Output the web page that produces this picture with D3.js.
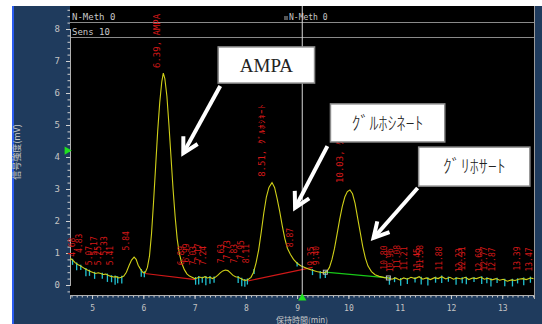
<!DOCTYPE html>
<html><head><meta charset="utf-8">
<script src="https://cdn.jsdelivr.net/npm/d3@7/dist/d3.min.js"></script>
<style>html,body{margin:0;padding:0;background:#fff;}svg{display:block;}</style>
</head><body>
<script>
// ---------- DATA ----------
const traceTimes = [4.57,4.62,4.67,4.72,4.77,4.82,4.87,4.92,4.97,5.02,5.07,5.12,5.17,5.22,5.27,5.32,5.37,5.42,5.47,5.52,5.57,5.62,5.67,5.72,5.77,5.82,5.86,5.90,5.95,6.00,6.04,6.08,6.12,6.16,6.20,6.24,6.28,6.32,6.36,6.39,6.42,6.46,6.50,6.54,6.58,6.62,6.66,6.70,6.75,6.80,6.85,6.90,6.95,7.00,7.05,7.10,7.15,7.20,7.25,7.30,7.35,7.40,7.45,7.50,7.55,7.60,7.65,7.70,7.75,7.80,7.85,7.90,7.95,8.00,8.05,8.10,8.15,8.20,8.25,8.30,8.35,8.40,8.45,8.51,8.56,8.61,8.66,8.71,8.76,8.81,8.87,8.93,9.00,9.07,9.15,9.22,9.30,9.38,9.45,9.52,9.58,9.63,9.68,9.73,9.78,9.83,9.88,9.93,9.98,10.03,10.08,10.13,10.18,10.23,10.28,10.33,10.38,10.45,10.52,10.60,10.70,10.78,10.85,10.92,11.00,11.08,11.15,11.22,11.30,11.38,11.45,11.52,11.60,11.68,11.75,11.82,11.90,11.98,12.05,12.12,12.20,12.28,12.35,12.42,12.50,12.58,12.65,12.72,12.80,12.88,12.95,13.02,13.10,13.18,13.25,13.32,13.40,13.47,13.55,13.61];
const traceValues = [0.84,0.78,0.70,0.64,0.60,0.55,0.50,0.46,0.42,0.39,0.36,0.38,0.36,0.33,0.34,0.30,0.27,0.25,0.26,0.22,0.24,0.28,0.40,0.60,0.78,0.87,0.80,0.62,0.48,0.38,0.40,0.55,0.90,1.60,2.60,3.70,4.80,5.70,6.35,6.62,6.45,5.90,5.00,4.00,3.00,2.15,1.45,1.00,0.68,0.48,0.35,0.28,0.24,0.20,0.22,0.25,0.22,0.26,0.22,0.24,0.20,0.24,0.30,0.38,0.44,0.47,0.45,0.38,0.30,0.26,0.24,0.20,0.16,0.14,0.18,0.24,0.40,0.70,1.10,1.65,2.25,2.75,3.05,3.20,3.05,2.70,2.30,1.85,1.45,1.15,0.95,0.80,0.68,0.60,0.55,0.50,0.46,0.42,0.40,0.38,0.42,0.55,0.80,1.15,1.60,2.05,2.45,2.75,2.92,2.97,2.85,2.55,2.10,1.65,1.20,0.85,0.60,0.42,0.32,0.27,0.23,0.22,0.18,0.22,0.16,0.22,0.18,0.24,0.20,0.26,0.18,0.22,0.17,0.23,0.20,0.26,0.19,0.24,0.18,0.22,0.19,0.24,0.17,0.22,0.20,0.25,0.18,0.21,0.16,0.20,0.15,0.18,0.12,0.16,0.14,0.18,0.20,0.17,0.22,0.20];

// integration baselines: [t1, v1, t2, v2]
const redBaselines = [[6.03,0.36,7.02,0.17],[8.02,0.12,9.30,0.55]];
const greenBaselines = [[9.55,0.40,10.78,0.22]];

// cyan noise marks (times) and their lengths in mV
const noiseTimes = [4.62,4.70,4.78,4.88,4.95,5.05,5.20,5.30,5.38,5.45,5.50,5.58,5.96,6.02,7.02,7.08,7.15,7.22,7.30,7.38,7.85,7.92,7.98,8.03,8.16,9.00,9.30,9.45,9.55,10.80,10.90,11.02,11.15,11.30,11.42,11.55,11.70,11.82,11.95,12.10,12.22,12.30,12.45,12.60,12.70,12.78,12.90,13.05,13.20,13.30,13.42,13.55];
const noiseDepths = [0.15,0.2,0.12,0.22,0.15,0.18,0.15,0.22,0.18,0.25,0.18,0.2,0.2,0.15,0.2,0.22,0.15,0.25,0.2,0.15,0.18,0.22,0.2,0.15,0.12,0.1,0.15,0.2,0.18,0.2,0.12,0.2,0.15,0.12,0.2,0.22,0.15,0.2,0.12,0.2,0.15,0.2,0.12,0.2,0.15,0.22,0.12,0.2,0.2,0.12,0.2,0.15];

// red retention-time labels: anchor time, text, start value (mV)
const rtLabelTimes = [4.67,4.80,4.99,5.09,5.18,5.29,5.40,5.73,6.80,6.90,7.03,7.13,7.23,7.57,7.69,7.83,7.96,8.06,8.92,9.33,9.43,10.75,10.87,11.00,11.14,11.39,11.45,11.82,12.22,12.28,12.61,12.71,12.86,13.35,13.58];
const rtLabelTexts = ["4.68","4.83","5.07","5.17","5.25","5.33","5.41","5.84","6.89","6.99","7.03","7.17","7.24","7.63","7.73","7.83","7.95","8.11","8.87","9.35","9.40","10.80","10.96","11.08","11.21","11.45","11.58","11.88","12.23","12.31","12.69","12.77","12.87","13.39","13.47"];
const rtLabelStarts = [0.88,1.00,0.62,0.92,0.62,0.92,0.62,1.08,0.62,0.70,0.62,0.70,0.62,0.68,0.80,0.68,0.80,0.68,1.18,0.60,0.62,0.48,0.40,0.50,0.45,0.40,0.50,0.45,0.40,0.45,0.40,0.45,0.42,0.45,0.42];

// named peak labels
const peakLabelTimes = [6.33,8.38,9.90];
const peakLabelTexts = ["6.39, AMPA","8.51, ｸﾞﾙﾎｼﾈｰﾄ","10.03, ｸﾞﾘﾎｻｰﾄ"];
const peakLabelStarts = [6.78,3.38,3.19];

// annotation callouts: box [t1,v1,t2,v2], text, arrow [tStart,vStart,tTip,vTip]
const calloutTexts = ["AMPA","ｸﾞﾙﾎｼﾈｰﾄ","ｸﾞﾘﾎｻｰﾄ"];
const calloutBoxes = [[7.46,7.44,9.34,6.31],[9.65,5.66,11.88,4.47],[11.37,4.31,13.54,3.09]];
const calloutArrows = [[7.50,6.22,6.78,4.12],[9.59,4.34,8.96,2.41],[11.35,3.03,10.49,1.47]];

const xTicks = [5,6,7,8,9,10,11,12,13];
const yTicks = [0,1,2,3,4,5,6,7,8];
const headerTexts = ["N-Meth 0","Sens 10"];
const cursorTime = 9.10;
const markerValue = 4.2;

// ---------- DRAW ----------
const W = 542, H = 324;
const svg = d3.select("body").append("svg").attr("width", W).attr("height", H);
const plot = {l:70, t:6, r:534, b:295};
const x = d3.scaleLinear().domain([4.57, 13.62]).range([plot.l, plot.r]);
const y = d3.scaleLinear().domain([0, 8]).range([285, 29]);

svg.append("rect").attr("width", W).attr("height", H).attr("fill", "#fff");
svg.append("rect").attr("x", 12).attr("y", 6).attr("width", W-12).attr("height", H-6).attr("fill", "#1f3b5d");
svg.append("line").attr("x1", 13).attr("x2", 13).attr("y1", 6).attr("y2", H).attr("stroke", "#2b5cf0").attr("stroke-width", 2);
svg.append("rect").attr("x", plot.l).attr("y", plot.t).attr("width", plot.r-plot.l).attr("height", plot.b-plot.t).attr("fill", "#000");
svg.append("line").attr("x1", plot.r+0.5).attr("x2", plot.r+0.5).attr("y1", plot.t).attr("y2", plot.b).attr("stroke", "#9a9a9a");

// header lines/text
[22, 37].forEach(yy => svg.append("line").attr("x1", plot.l).attr("x2", plot.r).attr("y1", yy+0.5).attr("y2", yy+0.5).attr("stroke", "#8a8a8a").attr("stroke-width", 1.2));
svg.append("text").attr("x", 72).attr("y", 20).text(headerTexts[0]).attr("fill", "#c8c8c8").style("font", "9px 'DejaVu Sans Mono'");
svg.append("text").attr("x", 72).attr("y", 35).text(headerTexts[1]).attr("fill", "#c8c8c8").style("font", "9px 'DejaVu Sans Mono'");
svg.append("text").attr("x", 289).attr("y", 20).text(headerTexts[0]).attr("fill", "#c8c8c8").style("font", "8px 'DejaVu Sans Mono'");
[285, 287].forEach(xx => svg.append("line").attr("x1", xx).attr("x2", xx).attr("y1", 16).attr("y2", 20).attr("stroke", "#aaa"));

// axes
const axisCol = "#c4c4c4";
const yMinor = svg.append("g").attr("transform", `translate(${plot.l},0)`)
  .call(d3.axisLeft(y).tickValues(d3.range(-0.2, 8.61, 0.2)).tickSize(2.5).tickFormat(""));
const yMajor = svg.append("g").attr("transform", `translate(${plot.l},0)`)
  .call(d3.axisLeft(y).tickValues(yTicks).tickSize(4).tickPadding(6));
const xMinor = svg.append("g").attr("transform", `translate(0,${plot.b})`)
  .call(d3.axisBottom(x).tickValues(d3.range(4.6, 13.61, 0.1)).tickSize(2.5).tickFormat(""));
const xMajor = svg.append("g").attr("transform", `translate(0,${plot.b})`)
  .call(d3.axisBottom(x).tickValues(xTicks).tickSize(4).tickPadding(6));
[yMinor, yMajor, xMinor, xMajor].forEach(g => {
  g.select(".domain").attr("stroke", "#b0b0b0");
  g.selectAll(".tick line").attr("stroke", "#d0d0d0");
  g.selectAll("text").attr("fill", axisCol).style("font", "9px 'DejaVu Sans Mono'");
});
xMajor.selectAll("text").style("font", "8px 'DejaVu Sans Mono'");

svg.append("text").attr("transform", "translate(20,152) rotate(-90)").attr("text-anchor", "middle")
  .text("信号強度(mV)").attr("fill", "#c8c8c8").style("font", "9px 'Noto Sans CJK JP'");
svg.append("text").attr("x", 302).attr("y", 323).attr("text-anchor", "middle")
  .text("保持時間(min)").attr("fill", "#c8c8c8").style("font", "8px 'Noto Sans CJK JP'");

// clip
svg.append("clipPath").attr("id", "clip").append("rect")
  .attr("x", plot.l).attr("y", 38).attr("width", plot.r-plot.l).attr("height", plot.b-38);
const g = svg.append("g").attr("clip-path", "url(#clip)");

// cursor line
svg.append("line").attr("x1", x(cursorTime)).attr("x2", x(cursorTime)).attr("y1", plot.t).attr("y2", plot.b)
  .attr("stroke", "#d8d8d8").attr("stroke-width", 1);

// baselines
redBaselines.forEach(b => g.append("line").attr("x1", x(b[0])).attr("y1", y(b[1])).attr("x2", x(b[2])).attr("y2", y(b[3])).attr("stroke", "#d01818").attr("stroke-width", 1.2));
greenBaselines.forEach(b => g.append("line").attr("x1", x(b[0])).attr("y1", y(b[1])).attr("x2", x(b[2])).attr("y2", y(b[3])).attr("stroke", "#18c818").attr("stroke-width", 1.2));

// noise marks
const valAt = t => {
  const i = d3.bisectLeft(traceTimes, t);
  if (i <= 0) return traceValues[0];
  if (i >= traceTimes.length) return traceValues[traceValues.length-1];
  const t0 = traceTimes[i-1], t1 = traceTimes[i];
  return traceValues[i-1] + (traceValues[i]-traceValues[i-1])*(t-t0)/(t1-t0);
};
noiseTimes.forEach((t, i) => g.append("line").attr("x1", x(t)).attr("x2", x(t))
  .attr("y1", y(valAt(t) + 0.04)).attr("y2", y(valAt(t) - noiseDepths[i])).attr("stroke", "#20c0d0").attr("stroke-width", 1.3));

// trace
const line = d3.line().x((d, i) => x(traceTimes[i])).y((d, i) => y(traceValues[i]));
g.append("path").datum(traceValues).attr("d", line).attr("fill", "none").attr("stroke", "#d0d018").attr("stroke-width", 1.1);

// baseline end squares
greenBaselines.forEach(b => [[b[0], b[1]], [b[2], b[3]]].forEach(p =>
  g.append("rect").attr("x", x(p[0])-2).attr("y", y(p[1])-2).attr("width", 4).attr("height", 4).attr("fill", "none").attr("stroke", "#bbb")));

// red rt labels
rtLabelTimes.forEach((t, i) => svg.append("text")
  .attr("transform", `translate(${x(t)},${y(rtLabelStarts[i])}) rotate(-90)`)
  .text(rtLabelTexts[i]).attr("fill", "#d41818").style("font", "8px 'DejaVu Sans Mono'"));
peakLabelTimes.forEach((t, i) => svg.append("text")
  .attr("transform", `translate(${x(t)},${y(peakLabelStarts[i])}) rotate(-90)`)
  .text(peakLabelTexts[i]).attr("fill", "#d41818").style("font", "9px 'DejaVu Sans Mono'"));

// markers
svg.append("path").attr("d", d3.symbol(d3.symbolTriangle, 30)())
  .attr("transform", `translate(${x(cursorTime)},${plot.b+3}) `).attr("fill", "#20e020");
svg.append("path").attr("d", d3.symbol(d3.symbolTriangle, 30)())
  .attr("transform", `translate(${plot.l-3},${y(markerValue)}) rotate(90)`).attr("fill", "#20e020");

// callouts
calloutBoxes.forEach((b, i) => {
  const x1 = x(b[0]), x2 = x(b[2]), y1 = y(b[1]), y2 = y(b[3]);
  svg.append("rect").attr("x", x1).attr("y", y1).attr("width", x2-x1).attr("height", y2-y1)
    .attr("fill", "#fff").attr("stroke", "#8c8c8c").attr("stroke-width", 1.5);
  svg.append("text").attr("x", (x1+x2)/2).attr("y", (y1+y2)/2).attr("dy", i === 0 ? "0.36em" : "0.38em")
    .attr("text-anchor", "middle").text(calloutTexts[i]).attr("fill", "#222")
    .style("font", i === 0 ? "19px 'Liberation Serif'" : "300 18px 'Noto Sans CJK JP'");
});
calloutArrows.forEach(a => {
  const sx = x(a[0]), sy = y(a[1]), tx = x(a[2]), ty = y(a[3]);
  const ang = Math.atan2(sy - ty, sx - tx);
  const L = 17, spread = 0.5;
  const w1 = [tx + L*Math.cos(ang+spread), ty + L*Math.sin(ang+spread)];
  const w2 = [tx + L*Math.cos(ang-spread), ty + L*Math.sin(ang-spread)];
  svg.append("line").attr("x1", sx).attr("y1", sy).attr("x2", tx).attr("y2", ty)
    .attr("stroke", "#fff").attr("stroke-width", 4);
  svg.append("path").attr("d", `M${w1[0]},${w1[1]}L${tx},${ty}L${w2[0]},${w2[1]}`)
    .attr("fill", "none").attr("stroke", "#fff").attr("stroke-width", 4).attr("stroke-linejoin", "miter");
});
</script>
</body></html>
